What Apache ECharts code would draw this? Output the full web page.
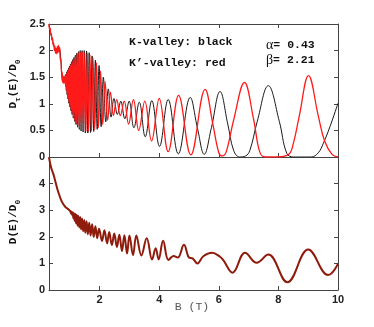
<!DOCTYPE html>
<html lang="en">
<head>
    <meta charset="UTF-8">
    <title>D(E)/D0 vs B</title>
    <style>
    html, body { margin: 0; padding: 0; background: #fff; }
    #chart { width: 374px; height: 327px; }
    </style>
</head>
<body>
    <div id="chart"></div>
    <script src="https://cdn.jsdelivr.net/npm/echarts@6/dist/echarts.min.js"></script>
    <script>
        // K-valley (black), top panel: [B, D_tau/D0]
        var kValley = [
            [0.30,2.48],[0.40,2.22],[0.50,2.04],[0.58,2.00],[0.64,2.04],[0.70,1.80],[0.76,1.42],[0.80,1.45],
            [0.82,1.50],[0.832,1.40],[0.843,1.53],[0.8565,1.33],[0.868,1.56],[0.882,1.25],[0.895,1.60],[0.9095,1.17],
            [0.923,1.63],[0.9385,1.09],[0.953,1.67],[0.969,1.01],[0.986,1.71],[1.0025,0.94],[1.02,1.75],[1.038,0.87],
            [1.057,1.79],[1.076,0.80],[1.096,1.83],[1.117,0.73],[1.138,1.87],[1.161,0.67],[1.184,1.91],[1.208,0.61],
            [1.234,1.95],[1.260,0.56],[1.288,1.98],[1.317,0.52],[1.347,2.00],[1.378,0.49],[1.411,2.00],[1.446,0.47],
            [1.483,2.00],[1.521,0.45],[1.561,1.99],[1.604,0.45],[1.649,1.96],[1.696,0.46],[1.747,1.90],[1.80,0.48],
            [1.857,1.82],[1.918,0.52],[1.98,1.72],[2.051,0.57],[2.125,1.50],[2.205,0.66],[2.29,1.28],[2.384,0.75],
            [2.48,1.10],[2.594,0.80],[2.71,1.05],[2.845,0.72],[2.99,1.05],[3.15,0.55],[3.33,1.03],[3.53,0.38],
            [3.75,1.06],[4.01,0.20],[4.30,1.08],[4.64,0.06],[5.04,1.12],[5.28,0.55],[5.51,0.05],[5.75,0.55],
            [6.04,1.23],[6.30,0.62],[6.50,0.12],[6.70,0.00],[6.90,0.02],[7.04,0.12],[7.29,0.67],[7.66,1.34],
            [8.03,0.67],[8.28,0.07],[8.50,0.00],[8.80,0.00],[9.10,0.00],[9.34,0.08],[9.51,0.26],[9.73,0.57],[10.0,1.01]
        ];

        // K'-valley (red), top panel
        var kpValley = [
            [0.30,2.50],[0.32,2.40],[0.34,2.42],[0.36,2.30],[0.38,2.32],[0.40,2.20],[0.42,2.24],[0.44,2.10],
            [0.46,2.14],[0.48,2.00],[0.50,2.08],[0.52,1.95],[0.54,2.04],[0.56,1.94],[0.58,2.08],[0.60,1.96],
            [0.62,2.10],[0.64,1.98],[0.66,2.06],[0.68,1.82],[0.70,1.85],[0.72,1.58],[0.74,1.60],[0.76,1.40],
            [0.78,1.52],[0.80,1.38],[0.82,1.50],
            [0.831,1.42],[0.843,1.52],[0.855,1.35],[0.868,1.55],[0.881,1.27],[0.895,1.58],[0.909,1.19],[0.924,1.61],
            [0.939,1.11],[0.954,1.65],[0.970,1.03],[0.987,1.69],[1.004,0.96],[1.022,1.73],[1.040,0.89],[1.060,1.77],
            [1.079,0.82],[1.100,1.81],[1.121,0.75],[1.144,1.85],[1.167,0.69],[1.191,1.89],[1.216,0.63],[1.242,1.93],
            [1.270,0.58],[1.298,1.96],[1.328,0.54],[1.359,1.97],[1.392,0.51],[1.427,1.97],[1.463,0.49],[1.501,1.96],
            [1.541,0.48],[1.584,1.95],[1.628,0.48],[1.676,1.92],[1.726,0.49],[1.779,1.86],[1.836,0.51],[1.896,1.77],
            [1.961,0.55],[2.030,1.62],[2.104,0.61],[2.183,1.42],[2.269,0.69],[2.362,1.22],[2.463,0.78],[2.573,1.08],
            [2.694,0.78],[2.826,1.05],[2.971,0.62],[3.133,1.08],[3.313,0.50],[3.515,1.05],[3.743,0.30],[4.00,1.10],
            [4.30,0.10],[4.65,1.16],[5.06,0.04],[5.54,1.27],[5.80,0.62],[6.00,0.08],[6.12,0.02],[6.25,0.10],
            [6.50,0.70],[6.86,1.40],[7.17,0.70],[7.37,0.10],[7.55,0.00],[8.00,0.00],[8.35,0.05],[8.50,0.25],
            [8.70,0.77],[9.01,1.53],[9.34,0.77],[9.55,0.30],[9.80,0.05],[10.0,0.00]
        ];

        // total D(E)/D0, bottom panel
        var total = [
            [0.30,4.99],[0.35,4.70],[0.40,4.50],[0.46,4.31],[0.52,4.05],[0.58,3.80],[0.63,3.62],[0.70,3.40],
            [0.77,3.24],[0.85,3.12],[0.93,3.05],[1.00,2.98],
            [1.02,2.96],[1.038,2.88],[1.057,2.94],[1.076,2.82],[1.096,2.92],[1.117,2.70],[1.138,2.89],[1.161,2.60],
            [1.184,2.86],[1.208,2.50],[1.234,2.83],[1.260,2.42],[1.288,2.78],[1.317,2.35],[1.347,2.74],[1.378,2.28],
            [1.411,2.69],[1.446,2.21],[1.483,2.63],[1.521,2.15],[1.561,2.58],[1.604,2.10],[1.649,2.53],[1.696,2.05],
            [1.747,2.47],[1.80,2.00],[1.857,2.40],[1.918,1.95],[1.98,2.30],[2.08,1.84],[2.16,2.25],[2.25,1.75],
            [2.32,2.18],[2.41,1.69],[2.49,2.12],[2.58,1.62],[2.66,2.08],[2.75,1.47],[2.83,2.06],[2.92,1.37],
            [3.00,2.05],[3.12,1.31],[3.23,2.05],[3.40,1.30],[3.58,1.95],[3.76,1.15],[3.88,1.57],[3.98,1.15],
            [4.13,1.85],[4.31,1.13],[4.48,1.28],[4.62,1.22],[4.83,1.70],[5.00,1.22],[5.12,1.19],[5.28,1.00],
            [5.48,1.27],[5.77,1.40],[6.04,1.25],[6.15,1.12],[6.46,0.65],[6.88,1.40],[7.27,1.02],[7.66,1.33],
            [8.30,0.29],[9.00,1.52],[9.67,0.56],[10.0,0.98]
        ];

        var bMin = 0.3, bMax = 10;

        var axisColor = '#444';
        var tickFont = { color: '#222', fontSize: 11, fontWeight: 'bold', fontFamily: 'Liberation Sans, Arial, sans-serif' };
        var monoBold = 'Liberation Mono, Courier New, monospace';

        function xAx(grid, pos, labels) {
            return {
                type: 'value', gridIndex: grid, position: pos, min: bMin, max: bMax, splitNumber: 5,
                axisLine: { show: true, onZero: false, lineStyle: { color: axisColor, width: 1 } },
                axisTick: { show: true, inside: true, length: 4, lineStyle: { color: axisColor } },
                axisLabel: Object.assign({ show: labels, margin: 4, showMinLabel: false,
                    formatter: function (v) { return (v % 2 === 0) ? String(v) : ''; } }, tickFont),
                splitLine: { show: false }
            };
        }
        function yAx(grid, pos, max, step, labels) {
            return {
                type: 'value', gridIndex: grid, position: pos, min: 0, max: max, interval: step,
                axisLine: { show: true, lineStyle: { color: axisColor, width: 1 } },
                axisTick: { show: true, inside: true, length: 4, lineStyle: { color: axisColor } },
                axisLabel: Object.assign({ show: labels, margin: 4, showMaxLabel: grid === 0 }, tickFont),
                splitLine: { show: false }
            };
        }

        var myChart = echarts.init(document.getElementById('chart'));
        var option = {
            animation: false,
            backgroundColor: '#fff',
            grid: [
                { left: 49, right: 36, top: 24, height: 133 },
                { left: 49, right: 36, top: 157, height: 133 }
            ],
            xAxis: [ xAx(0, 'bottom', false), xAx(0, 'top', false), xAx(1, 'bottom', true) ],
            yAxis: [ yAx(0, 'left', 2.5, 0.5, true), yAx(0, 'right', 2.5, 0.5, false),
                     yAx(1, 'left', 5, 1, true), yAx(1, 'right', 5, 1, false) ],
            series: [
                { name: 'K-valley', type: 'line', xAxisIndex: 0, yAxisIndex: 0, data: kValley,
                  showSymbol: false, smooth: 0.4, lineStyle: { color: '#1a1a1a', width: 1 } },
                { name: "K'-valley", type: 'line', xAxisIndex: 0, yAxisIndex: 0, data: kpValley,
                  showSymbol: false, smooth: 0.4, lineStyle: { color: '#ff1a1a', width: 1.3 } },
                { name: 'total', type: 'line', xAxisIndex: 2, yAxisIndex: 2, data: total,
                  showSymbol: false, smooth: 0.4, lineStyle: { color: '#8e1b0b', width: 2 } }
            ],
            graphic: [
                { type: 'text', x: 129, y: 42, style: { text: 'K-valley: black', font: 'bold 11.5px ' + monoBold, fill: '#111', verticalAlign: 'middle' } },
                { type: 'text', x: 129, y: 63, style: { text: 'K\u2019-valley: red', font: 'bold 11.5px ' + monoBold, fill: '#111', verticalAlign: 'middle' } },
                { type: 'text', x: 266, y: 45.5, style: { text: '{g|\u03b1}{m|= 0.43}', verticalAlign: 'middle',
                    rich: { g: { fontFamily: 'Liberation Serif, serif', fontSize: 14, fill: '#111' }, m: { fontFamily: monoBold, fontWeight: 'bold', fontSize: 11.5, fill: '#111' } } } },
                { type: 'text', x: 266, y: 60.5, style: { text: '{g|\u03b2}{m|= 2.21}', verticalAlign: 'middle',
                    rich: { g: { fontFamily: 'Liberation Serif, serif', fontSize: 14, fill: '#111' }, m: { fontFamily: monoBold, fontWeight: 'bold', fontSize: 11.5, fill: '#111' } } } },
                { type: 'text', x: 13, y: 84, rotation: Math.PI / 2, style: { text: '{a|D}{s|\u03c4}{a|(E)/D}{s|0}', align: 'center', verticalAlign: 'middle',
                    rich: { a: { fontFamily: monoBold, fontWeight: 'bold', fontSize: 11, lineHeight: 18, verticalAlign: 'middle', fill: '#111' },
                            s: { fontFamily: monoBold, fontWeight: 'bold', fontSize: 8, lineHeight: 18, verticalAlign: 'bottom', fill: '#111' } } } },
                { type: 'text', x: 13, y: 222, rotation: Math.PI / 2, style: { text: '{a|D(E)/D}{s|0}', align: 'center', verticalAlign: 'middle',
                    rich: { a: { fontFamily: monoBold, fontWeight: 'bold', fontSize: 11, lineHeight: 18, verticalAlign: 'middle', fill: '#111' },
                            s: { fontFamily: monoBold, fontWeight: 'bold', fontSize: 8, lineHeight: 18, verticalAlign: 'bottom', fill: '#111' } } } },
                { type: 'text', x: 192, y: 307, style: { text: 'B (T)', font: '11.5px ' + monoBold, fill: '#555', align: 'center', verticalAlign: 'middle' } }
            ]
        };
        myChart.setOption(option);
    </script>
</body>
</html>
